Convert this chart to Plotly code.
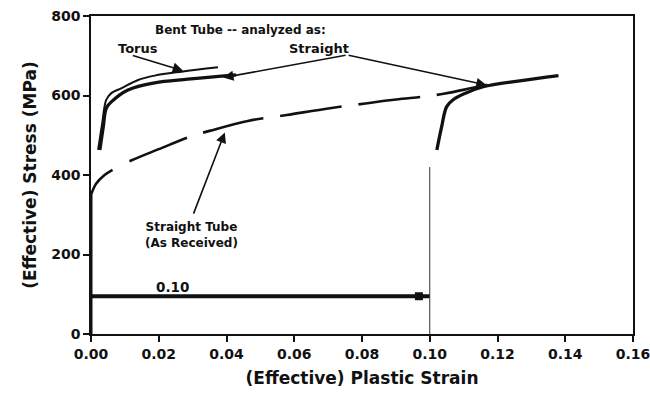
import plotly.graph_objects as go

# ---- data ----
torus_strain = [0.0021, 0.0033, 0.0045, 0.0060, 0.0089, 0.0139, 0.0188, 0.0267, 0.0375]
torus_stress = [463, 530, 589, 606, 618, 639, 650, 660, 671]

straight_strain = [0.0026, 0.0036, 0.0045, 0.0060, 0.0109, 0.0188, 0.0286, 0.0385, 0.0428]
straight_stress = [463, 520, 568, 584, 614, 632, 641, 649, 652]

reload_strain = [0.1021, 0.1035, 0.1050, 0.1070, 0.1109, 0.1158, 0.1266, 0.1380]
reload_stress = [463, 521, 572, 590, 607, 622, 637, 650]

received_strain = [0.0, 0.0015, 0.0040, 0.0066, 0.0120, 0.0200, 0.0297, 0.0350, 0.0463,
                   0.0578, 0.0705, 0.0810, 0.0900, 0.0990, 0.1045, 0.1120, 0.1170]
received_stress = [350, 378, 400, 414, 437, 465, 498, 511, 536,
                   551, 568, 580, 590, 598, 605, 618, 627]

initial_strain = [0.0, 0.0]
initial_stress = [0, 350]

prestrain_strain = [0.0, 0.10]
prestrain_stress = [95, 95]
prestrain_marker_strain = [0.0968]
prestrain_marker_stress = [95]

unload_strain = [0.10, 0.10]
unload_stress = [0, 420]

x_ticks = [0.00, 0.02, 0.04, 0.06, 0.08, 0.10, 0.12, 0.14, 0.16]
y_ticks = [0, 200, 400, 600, 800]

INK = "#111111"
FONT = "DejaVu Sans"

fig = go.Figure()
fig.add_trace(go.Scatter(x=torus_strain, y=torus_stress, mode="lines",
                         line=dict(color=INK, width=2, shape="spline"), showlegend=False))
fig.add_trace(go.Scatter(x=straight_strain, y=straight_stress, mode="lines",
                         line=dict(color=INK, width=3.3, shape="spline"), showlegend=False))
fig.add_trace(go.Scatter(x=reload_strain, y=reload_stress, mode="lines",
                         line=dict(color=INK, width=3.3, shape="spline"), showlegend=False))
fig.add_trace(go.Scatter(x=received_strain, y=received_stress, mode="lines",
                         line=dict(color=INK, width=2.6, dash="34px,19px,62px,17px,62px,17px,62px,17px,62px,17px,62px,17px,62px,17px,62px,17px", shape="spline"),
                         showlegend=False))
fig.add_trace(go.Scatter(x=initial_strain, y=initial_stress, mode="lines",
                         line=dict(color=INK, width=3), showlegend=False))
fig.add_trace(go.Scatter(x=prestrain_strain, y=prestrain_stress, mode="lines",
                         line=dict(color=INK, width=4), showlegend=False))
fig.add_trace(go.Scatter(x=prestrain_marker_strain, y=prestrain_marker_stress, mode="markers",
                         marker=dict(color=INK, size=8, symbol="square"), showlegend=False))
fig.add_trace(go.Scatter(x=unload_strain, y=unload_stress, mode="lines",
                         line=dict(color="#333333", width=1), showlegend=False))

ann = []
def txt(x, y, s, size):
    ann.append(dict(x=x, y=y, xref="x", yref="y", text=s, showarrow=False,
                    font=dict(family=FONT, size=size, color=INK, weight="bold"),
                    align="center"))

def arrow(hx, hy, tx, ty):
    ann.append(dict(x=hx, y=hy, ax=tx, ay=ty, xref="x", yref="y", axref="x", ayref="y",
                    text="", showarrow=True, arrowhead=2, arrowsize=1.3, arrowwidth=1.6,
                    arrowcolor=INK))

txt(0.0440, 765, "Bent Tube -- analyzed as:", 12)
txt(0.0140, 719, "Torus", 13)
txt(0.0673, 719, "Straight", 13)
txt(0.0242, 118, "0.10", 13.5)
txt(0.0297, 248, "Straight Tube<br>(As Received)", 12)

arrow(0.0272, 662, 0.0119, 702)
arrow(0.0390, 645, 0.0756, 702)
arrow(0.1168, 626, 0.0756, 702)
arrow(0.0395, 507, 0.0301, 299)

fig.update_layout(
    width=650, height=393,
    margin=dict(l=91, r=17, t=16, b=59, autoexpand=False),
    paper_bgcolor="white", plot_bgcolor="white",
    annotations=ann,
    font=dict(family=FONT, color=INK),
)
fig.update_xaxes(range=[0, 0.16], tickvals=x_ticks, ticktext=[f"{v:.2f}" for v in x_ticks],
                 ticklabeloverflow="allow", automargin=False,
                 showgrid=False, zeroline=False, showline=True, linecolor=INK, linewidth=1.5,
                 mirror=True, ticks="outside", ticklen=6, tickwidth=1.5, tickcolor=INK,
                 tickfont=dict(family=FONT, size=14, color=INK, weight="bold"),
                 title=dict(text="(Effective) Plastic Strain", standoff=12,
                            font=dict(family=FONT, size=17, color=INK, weight="bold")))
fig.update_yaxes(range=[0, 800], tickvals=y_ticks, automargin=False,
                 showgrid=False, zeroline=False, showline=True, linecolor=INK, linewidth=1.5,
                 mirror=True, ticks="outside", ticklen=6, tickwidth=1.5, tickcolor=INK,
                 tickfont=dict(family=FONT, size=14, color=INK, weight="bold"),
                 title=dict(text="(Effective) Stress (MPa)", standoff=10,
                            font=dict(family=FONT, size=17, color=INK, weight="bold")))

fig.write_html("out.html")
